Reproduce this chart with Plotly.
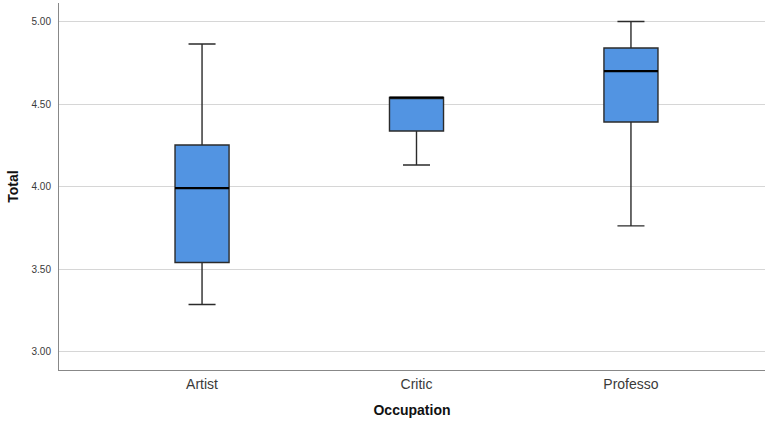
import plotly.graph_objects as go

categories = ["Artist", "Critic", "Professo"]
lower_whisker = [3.287, 4.132, 3.763]
q1 = [3.542, 4.337, 4.392]
median = [3.992, 4.540, 4.700]
q3 = [4.253, 4.540, 4.840]
upper_whisker = [4.864, 4.540, 5.000]
y_ticks = [3.0, 3.5, 4.0, 4.5, 5.0]

positions = list(range(len(categories)))
box_w = 0.252

fig = go.Figure()
fig.add_trace(go.Box(
    x=positions,
    q1=q1, median=median, q3=q3,
    lowerfence=lower_whisker, upperfence=upper_whisker,
    width=box_w, whiskerwidth=0.5,
    fillcolor="#5294E2",
    line=dict(color="#2b2b2b", width=1.4),
    hoverinfo="skip",
    showlegend=False,
))

mx, my = [], []
for p, m in zip(positions, median):
    mx += [p - box_w / 2, p + box_w / 2, None]
    my += [m, m, None]
fig.add_trace(go.Scatter(x=mx, y=my, mode="lines",
                         line=dict(color="#000000", width=2.2),
                         hoverinfo="skip", showlegend=False))

fig.update_layout(
    width=765, height=424,
    margin=dict(l=59, r=0, t=3, b=54),
    paper_bgcolor="white", plot_bgcolor="white",
    font=dict(family="Liberation Sans, Arial, sans-serif", color="#333333"),
    xaxis=dict(
        range=[-0.667, 2.625],
        tickmode="array", tickvals=positions, ticktext=categories,
        tickfont=dict(size=14, color="#3a3a3a"),
        showgrid=False, zeroline=False,
        showline=True, linecolor="#888888", linewidth=1,
        ticks="", ticklabelstandoff=1,
        title=dict(text="<b>Occupation</b>", font=dict(size=14, color="#111111"), standoff=14),
    ),
    yaxis=dict(
        range=[2.891, 5.112],
        tickmode="array", tickvals=y_ticks, tickformat=".2f",
        tickfont=dict(size=10, color="#3a3a3a"),
        showgrid=True, gridcolor="#d6d6d6", gridwidth=1,
        zeroline=False,
        showline=True, linecolor="#888888", linewidth=1,
        ticks="", ticklabelstandoff=5,
        title=dict(text="<b>Total</b>", font=dict(size=14, color="#111111"), standoff=9),
    ),
)

fig.write_html("out.html", config={"displayModeBar": False},
               post_script="document.body.style.margin='0px';")
